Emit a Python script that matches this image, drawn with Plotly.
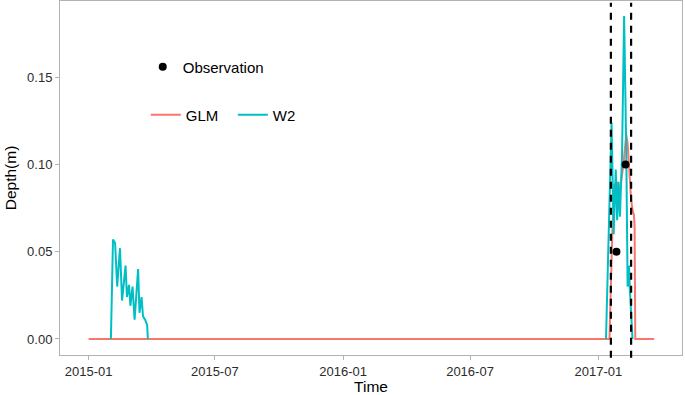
import plotly.graph_objects as go

# ---- data ----
glm_dates = ["2015-01-01", "2017-01-17", "2017-01-21", "2017-01-24", "2017-01-26",
             "2017-01-28", "2017-01-30", "2017-02-02", "2017-02-06", "2017-02-10",
             "2017-02-12", "2017-02-14", "2017-02-17", "2017-02-19", "2017-02-21",
             "2017-02-22", "2017-02-23", "2017-03-22"]
glm_depth = [0, 0, 0.060, 0.089, 0.084, 0.090, 0.085, 0.088, 0.100, 0.117,
             0.112, 0.097, 0.080, 0.074, 0.071, 0.065, 0, 0]

w2_dates_2015 = ["2015-02-02", "2015-02-05", "2015-02-08", "2015-02-11", "2015-02-15",
                 "2015-02-18", "2015-02-23", "2015-02-25", "2015-02-28", "2015-03-02",
                 "2015-03-05", "2015-03-08", "2015-03-13", "2015-03-15", "2015-03-18",
                 "2015-03-20", "2015-03-23", "2015-03-26", "2015-03-27"]
w2_depth_2015 = [0, 0.057, 0.055, 0.030, 0.052, 0.022, 0.042, 0.024, 0.031, 0.019,
                 0.030, 0.011, 0.040, 0.015, 0.024, 0.013, 0.011, 0.008, 0]

w2_dates_2017 = ["2017-01-12", "2017-01-16", "2017-01-20", "2017-01-23", "2017-01-26",
                 "2017-01-28", "2017-01-30", "2017-02-01", "2017-02-04", "2017-02-07",
                 "2017-02-10", "2017-02-12", "2017-02-14", "2017-02-15", "2017-02-19"]
w2_depth_2017 = [0, 0.064, 0.124, 0.060, 0.097, 0.068, 0.090, 0.070, 0.105, 0.185,
                 0.110, 0.030, 0.042, 0.030, 0]

obs_dates = ["2017-01-27", "2017-02-09"]
obs_depth = [0.050, 0.100]

vline_dates = ["2017-01-19", "2017-02-17"]

x_ticks = ["2015-01-01", "2015-07-01", "2016-01-01", "2016-07-01", "2017-01-01"]
x_ticklabels = ["2015-01", "2015-07", "2016-01", "2016-07", "2017-01"]
y_ticks = [0.00, 0.05, 0.10, 0.15]
y_ticklabels = ["0.00", "0.05", "0.10", "0.15"]

RED = "#F8766D"
TEAL = "#00BFC4"
FONT = "Liberation Sans, Arial, sans-serif"

w2_x = w2_dates_2015 + [None] + w2_dates_2017
w2_y = w2_depth_2015 + [None] + w2_depth_2017

fig = go.Figure()
fig.add_trace(go.Scatter(x=glm_dates, y=glm_depth, mode="lines", name="GLM",
                         line=dict(color=RED, width=2), legend="legend2"))
fig.add_trace(go.Scatter(x=w2_x, y=w2_y, mode="lines", name="W2",
                         line=dict(color=TEAL, width=2), connectgaps=False,
                         legend="legend2"))
fig.add_trace(go.Scatter(x=obs_dates, y=obs_depth, mode="markers", name="Observation",
                         marker=dict(color="black", size=8), legend="legend"))

for d in vline_dates:
    fig.add_shape(type="line", xref="x", yref="paper", x0=d, x1=d, y0=-0.008, y1=0.995,
                  line=dict(color="black", width=2.2, dash="7px,6px"))

axis_common = dict(showgrid=False, zeroline=False, showline=True, mirror=True,
                   linecolor="#B3B3B3", linewidth=1, ticks="outside", ticklen=4,
                   tickcolor="#B3B3B3", automargin=False,
                   tickfont=dict(family=FONT, size=13, color="#2B2B2B"))

fig.update_layout(
    width=685, height=395,
    margin=dict(l=60, r=3, t=1, b=40),
    paper_bgcolor="white", plot_bgcolor="white",
    font=dict(family=FONT),
    xaxis=dict(type="date", range=["2014-11-21", "2017-05-01"],
               tickvals=x_ticks, ticktext=x_ticklabels,
               title=dict(text="Time", font=dict(family=FONT, size=15.5, color="black"),
                          standoff=4),
               **axis_common),
    yaxis=dict(range=[-0.0092, 0.1936], tickvals=y_ticks, ticktext=y_ticklabels,
               title=dict(text="Depth(m)", font=dict(family=FONT, size=15.5, color="black"),
                          standoff=6),
               **axis_common),
    legend=dict(x=0.133, y=0.8136, xanchor="left", yanchor="middle",
                bgcolor="rgba(0,0,0,0)", font=dict(family=FONT, size=15, color="black")),
    legend2=dict(x=0.138, y=0.678, xanchor="left", yanchor="middle", orientation="h",
                 entrywidth=42, entrywidthmode="pixels",
                 bgcolor="rgba(0,0,0,0)", font=dict(family=FONT, size=15, color="black")),
    showlegend=True,
)

fig.write_html("out.html", config={"displayModeBar": False},
               post_script="document.body.style.margin='0';")
